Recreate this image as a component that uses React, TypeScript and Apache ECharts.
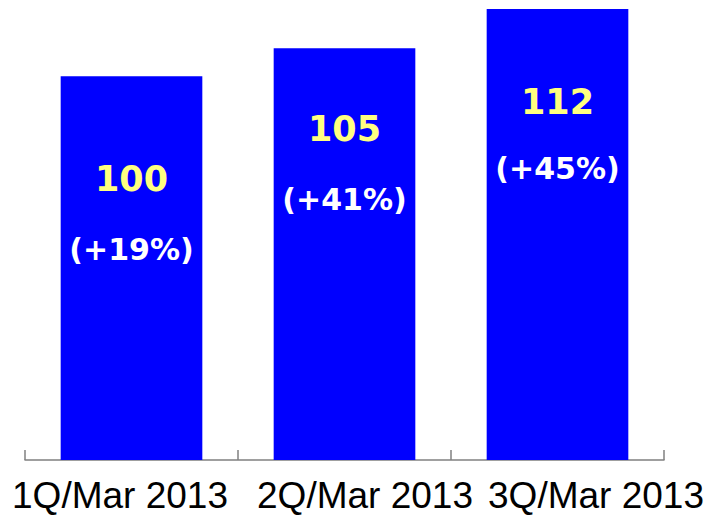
import React, { useEffect, useRef } from "react";
import * as echarts from "echarts";

const categories = ["1Q/Mar 2013", "2Q/Mar 2013", "3Q/Mar 2013"];
const values = [100, 105, 112];
const growth = ["(+19%)", "(+41%)", "(+45%)"];

// label layout tweaks (styling only)
const labelDistance = [68, 46, 60];
const labelLineHeight = [70, 70, 66];
const axisLabelPad = [
  [0, 23, 0, 0],
  [0, 0, 0, 41],
  [0, 0, 0, 77],
];

export default function App() {
  const ref = useRef<HTMLDivElement>(null);
  useEffect(() => {
    if (!ref.current) return;
    const chart = echarts.init(ref.current, undefined, { renderer: "svg" });
    const rich: Record<string, any> = {};
    axisLabelPad.forEach((p, i) => {
      rich["c" + i] = {
        fontFamily: "Liberation Sans",
        fontSize: 37,
        color: "#000",
        padding: p,
      };
    });
    chart.setOption({
      animation: false,
      backgroundColor: "#fff",
      grid: { left: 25, right: 44, top: 9, bottom: 55, containLabel: false },
      xAxis: {
        type: "category",
        data: categories,
        axisLine: { show: true, lineStyle: { color: "#808080", width: 1.5 } },
        axisTick: {
          show: true,
          inside: true,
          length: 10,
          lineStyle: { color: "#808080", width: 1.5 },
        },
        axisLabel: {
          interval: 0,
          hideOverlap: false,
          margin: 17,
          formatter: (v: string, i: number) => `{c${i}|${v}}`,
          rich,
        },
      },
      yAxis: {
        type: "value",
        min: 31.6,
        max: 112,
        show: false,
        splitLine: { show: false },
      },
      series: [
        {
          type: "bar",
          barWidth: "66.5%",
          itemStyle: { color: "#0000FF" },
          data: values.map((v, i) => ({
            value: v,
            label: {
              show: true,
              position: "insideTop",
              distance: labelDistance[i],
              formatter: `{v|${v}}\n{p|${growth[i]}}`,
              rich: {
                v: {
                  fontFamily: "DejaVu Sans",
                  fontWeight: "bold",
                  fontSize: 35,
                  color: "#FFFF80",
                  lineHeight: labelLineHeight[i],
                  align: "center",
                },
                p: {
                  fontFamily: "DejaVu Sans",
                  fontWeight: "bold",
                  fontSize: 30,
                  color: "#FFFFFF",
                  lineHeight: labelLineHeight[i],
                  align: "center",
                },
              },
            },
          })),
        },
      ],
    });
    return () => chart.dispose();
  }, []);
  return (
    <div
      ref={ref}
      style={{ width: 708, height: 515, position: "fixed", left: 0, top: 0 }}
    />
  );
}
